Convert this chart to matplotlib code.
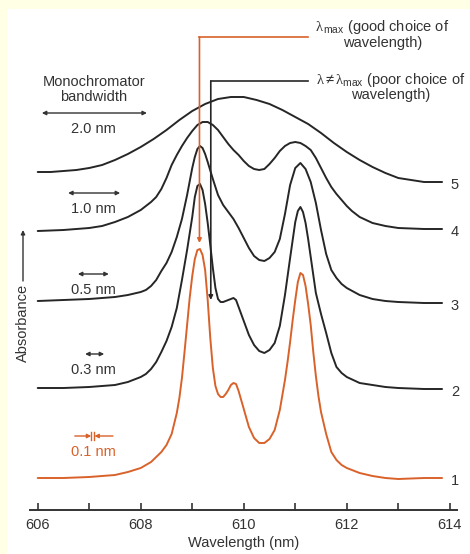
import matplotlib
matplotlib.use("Agg")
import matplotlib.pyplot as plt
from matplotlib.patches import Rectangle

plt.rcParams['font.family'] = ['Liberation Sans', 'DejaVu Sans']
plt.rcParams['mathtext.fontset'] = 'custom'
plt.rcParams['mathtext.rm'] = 'Liberation Sans'
plt.rcParams['mathtext.it'] = 'Liberation Serif'

# spectra: wavelength (nm) vs absorbance (arb. units, each trace offset)
wl_01 = [606.00, 606.50, 607.00, 607.25, 607.50, 607.75, 608.00, 608.20, 608.40, 608.50,
         608.60, 608.70, 608.75, 608.80, 608.85, 608.90, 608.95, 609.00, 609.05, 609.10,
         609.15, 609.20, 609.25, 609.30, 609.35, 609.40, 609.45, 609.50, 609.55, 609.60,
         609.65, 609.70, 609.75, 609.80, 609.85, 609.90, 609.95, 610.00, 610.10, 610.20,
         610.30, 610.40, 610.50, 610.60, 610.70, 610.75, 610.80, 610.85, 610.90, 610.95,
         611.00, 611.05, 611.10, 611.15, 611.20, 611.25, 611.30, 611.35, 611.40, 611.45,
         611.50, 611.60, 611.70, 611.80, 611.90, 612.00, 612.25, 612.50, 612.75, 613.00,
         613.50, 613.85]
abs_01 = [32, 32, 33, 34, 35, 38, 42, 48, 58, 65,
          76, 97, 112, 132, 158, 185, 212, 234, 251, 260,
          261, 255, 240, 210, 172, 142, 124, 116, 113, 113,
          116, 120, 125, 127, 126, 119, 110, 101, 83, 72,
          67, 67, 71, 80, 100, 115, 130, 148, 168, 190,
          210, 228, 237, 235, 224, 206, 185, 158, 134, 114,
          98, 76, 58, 50, 45, 42, 37, 34, 32, 31,
          32, 32]

wl_03 = [606.00, 606.50, 607.00, 607.50, 607.75, 608.00, 608.10, 608.20, 608.30, 608.40,
         608.50, 608.60, 608.70, 608.80, 608.90, 609.00, 609.05, 609.10, 609.15, 609.20,
         609.25, 609.30, 609.35, 609.40, 609.45, 609.50, 609.55, 609.60, 609.70, 609.80,
         609.85, 609.90, 610.00, 610.10, 610.20, 610.30, 610.40, 610.50, 610.60, 610.70,
         610.80, 610.90, 611.00, 611.05, 611.10, 611.15, 611.20, 611.25, 611.30, 611.40,
         611.50, 611.60, 611.70, 611.80, 611.90, 612.00, 612.25, 612.50, 612.75, 613.00,
         613.50, 613.85]
abs_03 = [122, 122, 123, 125, 128, 133, 136, 141, 148, 158,
          169, 183, 202, 230, 260, 293, 313, 324, 326, 320,
          306, 287, 265, 242, 222, 211, 208, 208, 210, 212,
          210, 203, 189, 175, 165, 159, 157, 160, 167, 184,
          215, 252, 288, 299, 303, 298, 287, 271, 253, 217,
          196, 177, 157, 143, 137, 133, 127, 125, 123, 122,
          121, 121]

wl_05 = [606.00, 606.50, 607.00, 607.50, 607.75, 608.00, 608.10, 608.20, 608.30, 608.40,
         608.50, 608.60, 608.70, 608.80, 608.90, 609.00, 609.05, 609.10, 609.15, 609.20,
         609.25, 609.30, 609.40, 609.50, 609.60, 609.70, 609.80, 609.90, 610.00, 610.10,
         610.20, 610.30, 610.40, 610.50, 610.60, 610.70, 610.80, 610.90, 611.00, 611.10,
         611.20, 611.30, 611.40, 611.50, 611.60, 611.70, 611.80, 611.90, 612.00, 612.25,
         612.50, 612.75, 613.00, 613.50, 613.85]
abs_05 = [209, 210, 211, 213, 215, 218, 220, 224, 230, 239,
          247, 258, 273, 291, 315, 342, 353, 361, 364, 362,
          356, 348, 331, 315, 305, 298, 291, 282, 272, 262,
          254, 250, 249, 252, 258, 271, 296, 325, 342, 347,
          341, 328, 307, 280, 256, 240, 232, 226, 222, 215,
          211, 209, 208, 207, 207]

wl_10 = [606.00, 606.50, 607.00, 607.25, 607.50, 607.75, 608.00, 608.10, 608.20, 608.30,
         608.40, 608.50, 608.60, 608.70, 608.80, 608.90, 609.00, 609.10, 609.20, 609.30,
         609.40, 609.50, 609.60, 609.70, 609.80, 609.90, 610.00, 610.10, 610.20, 610.30,
         610.40, 610.50, 610.60, 610.70, 610.80, 610.90, 611.00, 611.10, 611.20, 611.30,
         611.40, 611.50, 611.60, 611.70, 611.80, 611.90, 612.00, 612.10, 612.25, 612.50,
         612.75, 613.00, 613.50, 613.85]
abs_10 = [279, 280, 282, 284, 288, 293, 300, 304, 308, 313,
          321, 332, 345, 355, 364, 372, 379, 385, 388, 388,
          385, 380, 373, 366, 360, 355, 349, 344, 341, 340,
          341, 346, 352, 359, 364, 367, 368, 367, 364, 360,
          352, 342, 332, 323, 316, 310, 304, 299, 293, 287,
          284, 282, 281, 281]

wl_20 = [606.00, 606.25, 606.50, 606.75, 607.00, 607.25, 607.50, 607.75, 608.00, 608.25,
         608.50, 608.75, 609.00, 609.25, 609.50, 609.75, 610.00, 610.25, 610.50, 610.75,
         611.00, 611.25, 611.50, 611.75, 612.00, 612.25, 612.50, 612.75, 613.00, 613.25,
         613.50, 613.85]
abs_20 = [338, 338, 339, 340, 342, 345, 350, 356, 363, 371,
          380, 390, 399, 406, 411, 413, 413, 410, 406, 400,
          393, 386, 377, 367, 358, 350, 343, 337, 332, 330,
          328, 328]

trace_ids = ['1', '2', '3', '4', '5']
bandwidths = ['0.1 nm', '0.3 nm', '0.5 nm', '1.0 nm', '2.0 nm']
lam_good = 609.14   # lambda max
lam_poor = 609.36

BLACK = '#262626'
ORANGE = '#d9622b'
TXT = '#333333'
FS = 10.5

fig = plt.figure(figsize=(4.7, 5.54), dpi=100, facecolor='#ffffe6')
fig.add_artist(Rectangle((7 / 470, 0), 1, 1 - 9 / 554, transform=fig.transFigure,
                         facecolor='white', edgecolor='none', zorder=-5))
ax = fig.add_axes([30 / 470, 44 / 554, 427 / 470, 490 / 554])
ax.set_facecolor('none')
ax.set_xlim(605.85, 614.14)
ax.set_ylim(0, 490)

series = [(wl_01, abs_01), (wl_03, abs_03), (wl_05, abs_05), (wl_10, abs_10), (wl_20, abs_20)]
for i, (wl, ab) in enumerate(series):
    col = ORANGE if i == 0 else BLACK
    ax.plot(wl, ab, color=col, lw=1.4, solid_capstyle='round', solid_joinstyle='round')
    ax.text(614.10, ab[-1] - 3, trace_ids[i], ha='center', va='center', fontsize=FS, color=TXT)

# bandwidth arrows (drawn roughly to scale on the wavelength axis)
arrow_h = [156, 236, 317, 397]
arrow_x0 = [606.92, 606.78, 606.59, 606.08]
arrow_x1 = [607.29, 607.38, 607.60, 608.12]
for i in range(4):
    ax.annotate('', xy=(arrow_x1[i], arrow_h[i]), xytext=(arrow_x0[i], arrow_h[i]),
                arrowprops=dict(arrowstyle='<|-|>', color=TXT, lw=1.0, mutation_scale=6,
                                shrinkA=0, shrinkB=0))
    ax.text(607.09, arrow_h[i] - 16, bandwidths[i + 1], ha='center', va='center',
            fontsize=FS, color=TXT)

# 0.1 nm marker: two arrows pointing at two bars
b0, b1 = 607.04, 607.10
ax.plot([b0, b0], [70, 78], color=ORANGE, lw=1.0)
ax.plot([b1, b1], [70, 78], color=ORANGE, lw=1.0)
ax.annotate('', xy=(b0, 74), xytext=(606.72, 74),
            arrowprops=dict(arrowstyle='-|>', color=ORANGE, lw=1.0, mutation_scale=6, shrinkA=0, shrinkB=0))
ax.annotate('', xy=(b1, 74), xytext=(607.46, 74),
            arrowprops=dict(arrowstyle='-|>', color=ORANGE, lw=1.0, mutation_scale=6, shrinkA=0, shrinkB=0))
ax.text(607.09, 58, bandwidths[0], ha='center', va='center', fontsize=FS, color=ORANGE)

ax.text(607.09, 428, 'Monochromator', ha='center', va='center', fontsize=FS, color=TXT)
ax.text(607.09, 413, 'bandwidth', ha='center', va='center', fontsize=FS, color=TXT)

# wavelength choice pointers
ax.plot([611.25, lam_good], [473, 473], color=ORANGE, lw=1.2)
ax.annotate('', xy=(lam_good, 267), xytext=(lam_good, 473),
            arrowprops=dict(arrowstyle='-|>', color=ORANGE, lw=1.2, mutation_scale=6, shrinkA=0, shrinkB=0))
ax.plot([611.25, lam_poor], [429, 429], color=BLACK, lw=1.2)
ax.annotate('', xy=(lam_poor, 210), xytext=(lam_poor, 429),
            arrowprops=dict(arrowstyle='-|>', color=BLACK, lw=1.2, mutation_scale=6, shrinkA=0, shrinkB=0))

ax.text(612.69, 483, r'$\lambda_{\,\mathrm{max}}$ (good choice of', ha='center', va='center',
        fontsize=FS, color=TXT)
ax.text(612.69, 467, 'wavelength)', ha='center', va='center', fontsize=FS, color=TXT)
ax.text(612.86, 430, r'$\lambda \neq \lambda_{\mathrm{max}}$ (poor choice of', ha='center',
        va='center', fontsize=FS, color=TXT)
ax.text(612.86, 415, 'wavelength)', ha='center', va='center', fontsize=FS, color=TXT)

# axes
for s in ['left', 'top', 'right']:
    ax.spines[s].set_visible(False)
ax.spines['bottom'].set_linewidth(1.4)
ax.spines['bottom'].set_color(TXT)
ax.set_yticks([])
ax.set_xticks(range(606, 615, 2))
ax.set_xticks(range(607, 614, 2), minor=True)
ax.tick_params(axis='x', which='both', direction='in', length=5, width=1.2, color=TXT,
               labelsize=FS, labelcolor=TXT, pad=6)
ax.set_xlabel('Wavelength (nm)', fontsize=FS, color=TXT, labelpad=3)

fig.text(23 / 470, 1 - 323 / 554, 'Absorbance', rotation=90, ha='center', va='center',
         fontsize=FS, color=TXT)
ax.annotate('', xy=(23 / 470, 1 - 230 / 554), xytext=(23 / 470, 1 - 281 / 554),
            xycoords='figure fraction', textcoords='figure fraction',
            arrowprops=dict(arrowstyle='-|>', color=TXT, lw=1.0, mutation_scale=6, shrinkA=0, shrinkB=0))

fig.savefig('out.png', dpi=100, facecolor=fig.get_facecolor())
